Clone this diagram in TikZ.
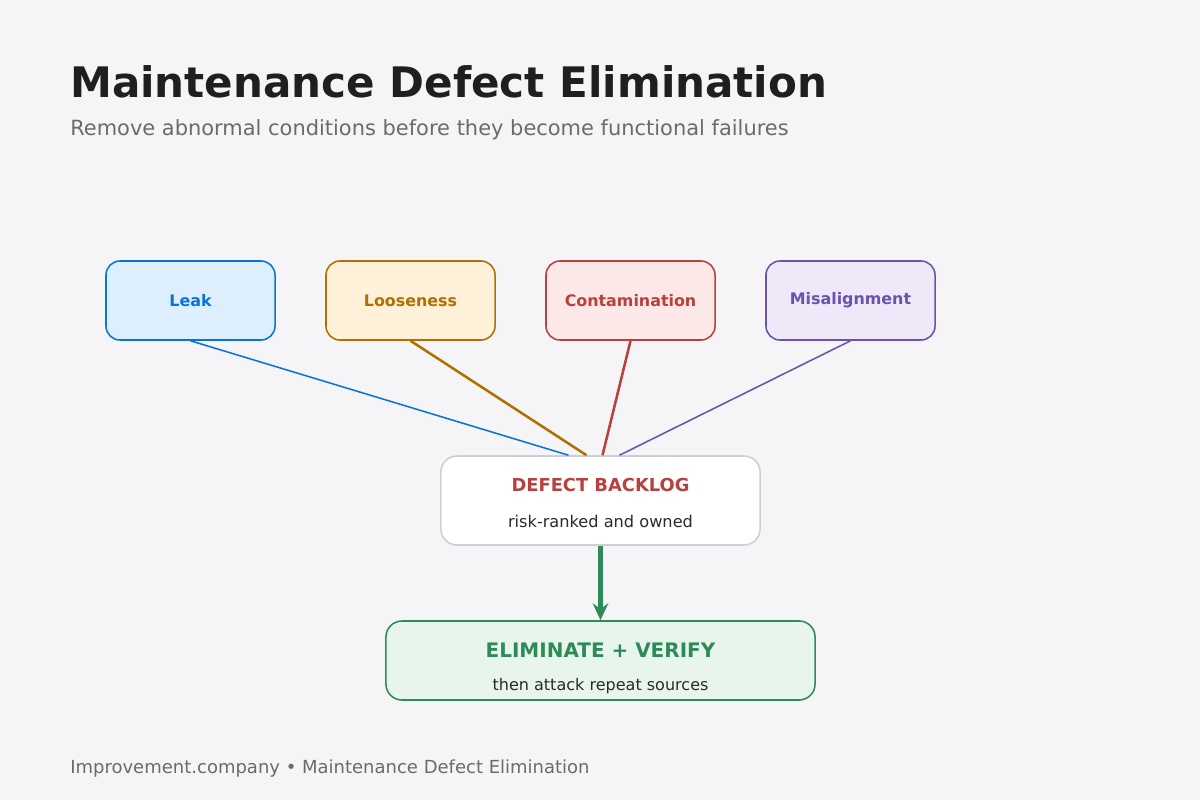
\documentclass[tikz,border=0pt]{standalone}
\usepackage{fontspec}
\setmainfont{DejaVu Sans}
\usepackage{xcolor}
\usetikzlibrary{arrows.meta, positioning, calc}
\definecolor{pagebg}{HTML}{F5F5F7}
\definecolor{titleink}{HTML}{1F1F1F}
\definecolor{mutedink}{HTML}{6B6B6B}
\definecolor{bodyink}{HTML}{2A2A2A}
\definecolor{leakblue}{HTML}{0A74D6}
\definecolor{leaklight}{HTML}{DDEEFD}
\definecolor{looseorange}{HTML}{B07000}
\definecolor{looselight}{HTML}{FFF0DA}
\definecolor{contred}{HTML}{B8403D}
\definecolor{contlight}{HTML}{FDE8E8}
\definecolor{mispurple}{HTML}{6B52AE}
\definecolor{mislight}{HTML}{EEE8F9}
\definecolor{backloggray}{HTML}{CFCFD3}
\definecolor{elimgreen}{HTML}{2E8B57}
\definecolor{elimlight}{HTML}{E8F5EC}

\begin{document}
\begin{tikzpicture}[
    x=0.025cm, y=-0.025cm,
    cause/.style={draw, line width=1.1pt, rounded corners=0.35cm, minimum width=4.225cm, minimum height=1.975cm, font=\fontsize{11.3}{13}\selectfont\bfseries, align=center},
    hub/.style={draw, line width=1.1pt, rounded corners=0.4cm, align=center},
    feed/.style={line width=1.1pt},
    flow/.style={-{Stealth[length=12pt, width=11pt, inset=4pt]}, line width=3.4pt},
]
    % Background
    \fill[pagebg] (0,0) rectangle (1200,800);

    % Heading
    \node[anchor=base west, inner sep=0pt, text=titleink, font=\fontsize{29.9}{34}\selectfont\bfseries] (title) at (70,98) {Maintenance Defect Elimination};
    \node[anchor=base west, inner sep=0pt, text=mutedink, font=\fontsize{14.9}{17}\selectfont] (subtitle) at (70,136) {Remove abnormal conditions before they become functional failures};

    % Top: defect types
    \node[cause, fill=leaklight, draw=leakblue, text=leakblue] (leak) at (190.5,300.5) {Leak};
    \node[cause, fill=looselight, draw=looseorange, text=looseorange] (loose) at (410.5,300.5) {Looseness};
    \node[cause, fill=contlight, draw=contred, text=contred] (cont) at (630.5,300.5) {Contamination};
    \node[cause, fill=mislight, draw=mispurple, text=mispurple] (mis) at (850.5,300.5) {Misalignment};

    % Middle: backlog
    \node[hub, fill=white, draw=backloggray, minimum width=7.975cm, minimum height=2.225cm] (backlog) at (600.5,500.5)
        {\rule{0pt}{13pt}{\fontsize{12.7}{14}\selectfont\bfseries\color{contred}DEFECT BACKLOG}\\[13.4pt]{\fontsize{11.5}{13}\selectfont\color{bodyink}risk-ranked and owned}};

    % Bottom: elimination
    \node[hub, fill=elimlight, draw=elimgreen, minimum width=10.725cm, minimum height=1.975cm] (elim) at (600.5,660.5)
        {\rule{0pt}{22pt}{\fontsize{14.2}{16}\selectfont\bfseries\color{elimgreen}ELIMINATE + VERIFY}\\[11.5pt]{\fontsize{11.4}{13}\selectfont\color{bodyink}then attack repeat sources}};

    % Connections
    \draw[feed, leakblue] (leak.south) -- ([xshift=-32*0.025cm]backlog.north);
    \draw[feed, looseorange, line width=1.8pt] (loose.south) -- ([xshift=-14*0.025cm]backlog.north);
    \draw[feed, contred, line width=1.8pt] (cont.south) -- ([xshift=2*0.025cm]backlog.north);
    \draw[feed, mispurple] (mis.south) -- ([xshift=19*0.025cm]backlog.north);
    \draw[flow, elimgreen] (backlog.south) -- (elim.north);

    % Footer
    \node[anchor=base west, inner sep=0pt, text=mutedink, font=\fontsize{12.8}{15}\selectfont] (footer) at (70,773) {Improvement.company • Maintenance Defect Elimination};
\end{tikzpicture}
\end{document}
